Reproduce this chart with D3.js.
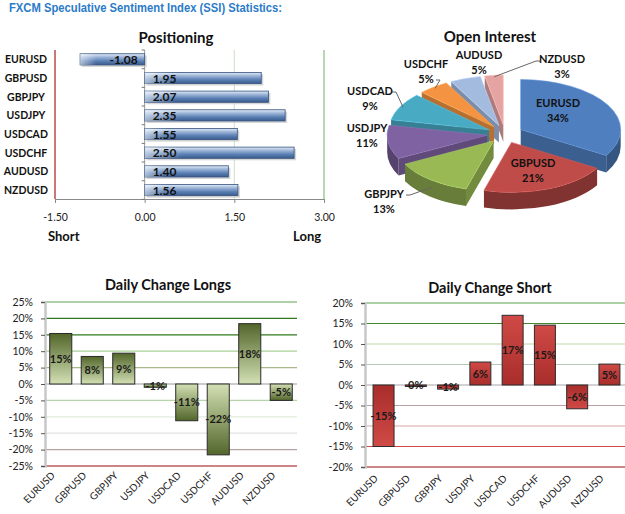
<!DOCTYPE html>
<html>
<head>
<meta charset="utf-8">
<script src="https://cdn.jsdelivr.net/npm/d3@7"></script>
<style>
  body { margin: 0; background: #fff; }
  svg { display: block; font-family: Lato, "Liberation Sans", sans-serif; }
</style>
</head>
<body>
<div id="chart"></div>
<script>
// ---- data ----
const pairs = ["EURUSD", "GBPUSD", "GBPJPY", "USDJPY", "USDCAD", "USDCHF", "AUDUSD", "NZDUSD"];
const positioning = [-1.08, 1.95, 2.07, 2.35, 1.55, 2.50, 1.40, 1.56];
const positioningTicks = [-1.5, 0, 1.5, 3];
const openInterest = [34, 21, 13, 11, 9, 5, 5, 3];
const longChange = [15.4, 8.4, 9.4, -1.0, -11.2, -21.6, 18.4, -5.0];
const longTicks = [25, 20, 15, 10, 5, 0, -5, -10, -15, -20, -25];
const shortChange = [-15.0, -0.2, -1.0, 5.6, 17.0, 14.6, -5.8, 5.1];
const shortTicks = [20, 15, 10, 5, 0, -5, -10, -15, -20];

const W = 625, H = 514;
const svg = d3.select("#chart").append("svg")
    .attr("width", W).attr("height", H);

const defs = svg.append("defs");
function vgrad(id, stops) {
    const g = defs.append("linearGradient").attr("id", id)
        .attr("x1", 0).attr("y1", 0).attr("x2", 0).attr("y2", 1);
    stops.forEach(s => g.append("stop").attr("offset", s[0]).attr("stop-color", s[1]));
}
vgrad("blueBar", [[0, "#e4ecf6"], [0.3, "#9db5d8"], [0.65, "#5a7fb3"], [1, "#3a5b8c"]]);
vgrad("greenUp", [[0, "#52662a"], [1, "#d3e0b4"]]);
vgrad("greenDown", [[0, "#d3e0b4"], [1, "#52662a"]]);
vgrad("redUp", [[0, "#d04a46"], [1, "#a82d2b"]]);
vgrad("redDown", [[0, "#a82d2b"], [1, "#d04a46"]]);
const sheen = defs.append("linearGradient").attr("id", "sheen")
    .attr("x1", 0).attr("y1", 0).attr("x2", 1).attr("y2", 0);
sheen.append("stop").attr("offset", 0).attr("stop-color", "#fff").attr("stop-opacity", 0.55);
sheen.append("stop").attr("offset", 0.25).attr("stop-color", "#fff").attr("stop-opacity", 0);

const fmt2 = d => d.toFixed(2);

// header
svg.append("text")
    .attr("x", 9).attr("y", 12)
    .attr("textLength", 273).attr("lengthAdjust", "spacingAndGlyphs")
    .style("font-family", "'Liberation Sans', Arial, sans-serif")
    .style("font-weight", "bold").style("font-size", "12px")
    .attr("fill", "#2b7bc9")
    .text("FXCM Speculative  Sentiment Index (SSI) Statistics:");

// ---------------- Positioning ----------------
{
    const x = d3.scaleLinear().domain([-1.5, 3]).range([55, 324]);
    const y = d3.scaleBand().domain(pairs).range([50, 199.4])
        .paddingInner(0.4).paddingOuter(0.2);
    const g = svg.append("g");

    g.append("text").attr("x", 176).attr("y", 43).attr("text-anchor", "middle")
        .style("font-weight", "bold").style("font-size", "15px").attr("fill", "#111")
        .text("Positioning");

    // vertical grid lines
    const gridCol = {"-1.5": "#b84a48", "1.5": "#d5e3cf", "3": "#86bf7e"};
    g.selectAll("line.grid").data(positioningTicks.filter(t => t !== 0)).enter()
        .append("line")
        .attr("x1", d => x(d)).attr("x2", d => x(d))
        .attr("y1", 50).attr("y2", 199)
        .attr("stroke", d => gridCol[d]).attr("stroke-width", d => d === -1.5 ? 1.5 : 1.2);

    // bottom axis
    const xAxis = g.append("g").attr("transform", "translate(0,199)")
        .call(d3.axisBottom(x).tickValues(positioningTicks).tickFormat(fmt2)
            .tickSize(4).tickPadding(11));
    xAxis.select(".domain").attr("stroke", "#8a8a8a");
    xAxis.selectAll(".tick line").attr("stroke", "#8a8a8a");
    xAxis.selectAll(".tick text").style("font-size", "10.5px").style("font-family", "Lato")
        .attr("fill", "#222");

    // zero axis
    g.append("line").attr("x1", x(0)).attr("x2", x(0)).attr("y1", 50).attr("y2", 199)
        .attr("stroke", "#9a9a9a");
    g.selectAll("line.ztick").data(d3.range(9)).enter().append("line")
        .attr("x1", x(0) - 3).attr("x2", x(0))
        .attr("y1", i => 50 + i * y.step()).attr("y2", i => 50 + i * y.step())
        .attr("stroke", "#777");

    // category labels
    g.selectAll("text.cat").data(pairs).enter().append("text")
        .attr("x", 26).attr("y", d => y(d) + y.bandwidth() / 2 + 4)
        .attr("text-anchor", "middle")
        .style("font-weight", "bold").style("font-size", "10.5px").attr("fill", "#111")
        .text(d => d);

    const bars = g.selectAll("g.bar").data(positioning).enter().append("g");
    bars.append("rect")
        .attr("x", d => Math.min(x(0), x(d)) + 2)
        .attr("y", (d, i) => y(pairs[i]) + 2)
        .attr("width", d => Math.abs(x(d) - x(0)))
        .attr("height", y.bandwidth())
        .attr("fill", "#c4c4c4").attr("opacity", 0.7);
    bars.append("rect")
        .attr("x", d => Math.min(x(0), x(d)))
        .attr("y", (d, i) => y(pairs[i]))
        .attr("width", d => Math.abs(x(d) - x(0)))
        .attr("height", y.bandwidth())
        .attr("fill", "url(#blueBar)").attr("stroke", "#34527f").attr("stroke-width", 0.8);
    bars.append("rect")
        .attr("x", d => Math.min(x(0), x(d)))
        .attr("y", (d, i) => y(pairs[i]))
        .attr("width", d => Math.abs(x(d) - x(0)))
        .attr("height", y.bandwidth())
        .attr("fill", "url(#sheen)");
    bars.append("text")
        .attr("x", d => d < 0 ? x(0) - 7 : x(0) + 8)
        .attr("y", (d, i) => y(pairs[i]) + y.bandwidth() / 2 + 4.5)
        .attr("text-anchor", d => d < 0 ? "end" : "start")
        .style("font-weight", "bold").style("font-size", "12px").attr("fill", "#111")
        .text(fmt2);

    g.append("text").attr("x", 48).attr("y", 241)
        .style("font-weight", "bold").style("font-size", "13px").attr("fill", "#111").text("Short");
    g.append("text").attr("x", 293).attr("y", 241)
        .style("font-weight", "bold").style("font-size", "13px").attr("fill", "#111").text("Long");
}

// ---------------- Open Interest (3D pie) ----------------
{
    const g = svg.append("g");
    g.append("text").attr("x", 490).attr("y", 42).attr("text-anchor", "middle")
        .style("font-weight", "bold").style("font-size", "15px").attr("fill", "#111")
        .text("Open Interest");

    const colors = ["#4f7fbe", "#bf4c49", "#98b954", "#7e62a1", "#49aac4", "#f49442", "#a4bbe0", "#e5a4a2"];
    const cx = 505, cy = 134, rx = 100, ry = 50, depth = 17, explode = 18;
    // label anchor (centre x, baseline of the name line) and which labels get a leader line
    const labelPos = {
        EURUSD: [558, 107], GBPUSD: [533, 167], GBPJPY: [384, 198], USDJPY: [367, 132],
        USDCAD: [370, 95], USDCHF: [426, 68], AUDUSD: [479, 59], NZDUSD: [562, 63]
    };
    const leaders = {GBPJPY: "right", USDCAD: "right", USDCHF: "below", NZDUSD: "left"};

    const arcs = d3.pie().sort(null).value(d => d)
        .startAngle(0).endAngle(2 * Math.PI)(openInterest);

    arcs.forEach((a, i) => {
        const mid = (a.startAngle + a.endAngle) / 2;
        a.ox = cx + explode * Math.sin(mid);
        a.oy = cy - explode * (ry / rx) * Math.cos(mid);
        a.mid = mid;
        a.i = i;
    });
    const pt = (a, ang, r = 1, dz = 0) =>
        [a.ox + rx * r * Math.sin(ang), a.oy - ry * r * Math.cos(ang) + dz];

    const order = arcs.slice().sort((p, q) => (-Math.cos(p.mid)) - (-Math.cos(q.mid)));
    order.forEach(a => {
        const col = d3.color(colors[a.i]);
        const side = col.darker(1.1);
        const sg = g.append("g");
        // radial faces
        [[a.startAngle, Math.sin(a.startAngle) < -1e-6], [a.endAngle, Math.sin(a.endAngle) > 1e-6]]
            .forEach(([ang, vis]) => {
                if (!vis) return;
                const p = pt(a, ang), c = [a.ox, a.oy];
                sg.append("path")
                    .attr("d", `M${c}L${p}L${p[0]},${p[1] + depth}L${c[0]},${c[1] + depth}Z`)
                    .attr("fill", side.brighter(0.3));
            });
        // outer wall
        const s = Math.max(a.startAngle, Math.PI / 2), e = Math.min(a.endAngle, 3 * Math.PI / 2);
        if (s < e) {
            const p0 = pt(a, s), p1 = pt(a, e), q1 = pt(a, e, 1, depth), q0 = pt(a, s, 1, depth);
            sg.append("path")
                .attr("d", `M${p0}A${rx},${ry} 0 0 1 ${p1}L${q1}A${rx},${ry} 0 0 0 ${q0}Z`)
                .attr("fill", side);
        }
        // top
        const large = (a.endAngle - a.startAngle) > Math.PI ? 1 : 0;
        sg.append("path")
            .attr("d", `M${a.ox},${a.oy}L${pt(a, a.startAngle)}A${rx},${ry} 0 ${large} 1 ${pt(a, a.endAngle)}Z`)
            .attr("fill", col).attr("stroke", col.brighter(0.4)).attr("stroke-width", 0.6);
    });

    // labels and leader lines
    arcs.forEach(a => {
        const name = pairs[a.i];
        const [lx, ly] = labelPos[name];
        const side = leaders[name];
        if (side) {
            const end = pt(a, a.mid, 0.97, a.mid > Math.PI / 2 && a.mid < 3 * Math.PI / 2 ? depth * 0.5 : 0);
            const start = side === "right" ? [lx + 22, ly - 3]
                : side === "left" ? [lx - 22, ly - 2]
                : [lx + 10, ly + 12];
            g.append("polyline")
                .attr("points", [start, [start[0] + (side === "left" ? -4 : 4), start[1]], end].join(" "))
                .attr("fill", "none").attr("stroke", "#666").attr("stroke-width", 1);
        }
        const t = g.append("text").attr("text-anchor", "middle")
            .style("font-weight", "bold").style("font-size", "11px").attr("fill", "#111");
        t.append("tspan").attr("x", lx).attr("y", ly).text(name);
        t.append("tspan").attr("x", lx).attr("y", ly + 15).text(a.data + "%");
    });
}

// ---------------- Daily change bars ----------------
function changeChart(opts) {
    const g = svg.append("g");
    const y = d3.scaleLinear().domain(opts.domain).range(opts.yRange);
    const x = d3.scaleBand().domain(pairs).range(opts.xRange)
        .paddingInner(opts.padIn).paddingOuter(opts.padOut);

    g.append("text").attr("x", opts.titleX).attr("y", opts.titleY).attr("text-anchor", "middle")
        .style("font-weight", "bold").style("font-size", "14.5px").attr("fill", "#111")
        .text(opts.title);

    g.selectAll("line.grid").data(opts.ticks).enter().append("line")
        .attr("x1", opts.xRange[0]).attr("x2", opts.gridEnd)
        .attr("y1", d => y(d)).attr("y2", d => y(d))
        .attr("stroke", d => opts.gridColor[d]).attr("stroke-width", 1.2);

    const yAxis = g.append("g").attr("transform", `translate(${opts.xRange[0]},0)`)
        .call(d3.axisLeft(y).tickValues(opts.ticks).tickFormat(d => d + "%").tickSize(4).tickPadding(8));
    yAxis.select(".domain").attr("stroke", "#c8c8c8").attr("stroke-width", 2.5);
    yAxis.selectAll(".tick line").attr("stroke", "#555");
    yAxis.selectAll(".tick text").style("font-size", "10.5px").style("font-family", "Lato")
        .attr("fill", "#222");

    const bars = g.selectAll("g.bar").data(opts.values).enter().append("g");
    bars.append("rect")
        .attr("x", (d, i) => x(pairs[i]))
        .attr("y", d => y(Math.max(0, d)))
        .attr("width", x.bandwidth())
        .attr("height", d => Math.max(1.5, Math.abs(y(d) - y(0))))
        .attr("fill", d => d >= 0 ? opts.fillUp : opts.fillDown)
        .attr("stroke", "#2b2b2b").attr("stroke-width", 1);
    bars.append("text")
        .attr("x", (d, i) => x(pairs[i]) + x.bandwidth() / 2)
        .attr("y", d => (y(d) + y(0)) / 2 + 4)
        .attr("text-anchor", "middle")
        .style("font-weight", "bold").style("font-size", "11px").attr("fill", "#1a1a1a")
        .text(d => Math.round(d) + "%");

    g.selectAll("text.cat").data(pairs).enter().append("text")
        .attr("transform", d => `translate(${x(d) + x.bandwidth() / 2 - 5},${opts.yRange[0] + opts.labelDy}) rotate(-45)`)
        .attr("text-anchor", "end")
        .style("font-size", "10px").attr("fill", "#222")
        .text(d => d);
}

changeChart({
    title: "Daily Change Longs", titleX: 168, titleY: 290,
    values: longChange, ticks: longTicks, domain: [-25, 25], yRange: [466, 302],
    xRange: [45, 297], gridEnd: 297, padIn: 0.3, padOut: 0.15, labelDy: 10,
    fillUp: "url(#greenUp)", fillDown: "url(#greenDown)",
    gridColor: {"25": "#5fa64e", "20": "#2f7a1f", "15": "#2f7a1f", "10": "#a8cf98", "5": "#a9b887",
                "0": "#9a9a9a", "-5": "#b6d6a9", "-10": "#e0eedb", "-15": "#e2e2e2", "-20": "#b7a3a3", "-25": "#9a0a0a"}
});

changeChart({
    title: "Daily Change Short", titleX: 490, titleY: 293,
    values: shortChange, ticks: shortTicks, domain: [-20, 20], yRange: [467, 303],
    xRange: [365, 628], gridEnd: 625, padIn: 0.35, padOut: 0.25, labelDy: 12,
    fillUp: "url(#redUp)", fillDown: "url(#redDown)",
    gridColor: {"20": "#5aa24e", "15": "#3f8a2c", "10": "#b9dcaa", "5": "#b4c9b2",
                "0": "#a8a8a8", "-5": "#baa2a2", "-10": "#e2a4a4", "-15": "#d24646", "-20": "#9a0a0a"}
});
</script>
</body>
</html>
